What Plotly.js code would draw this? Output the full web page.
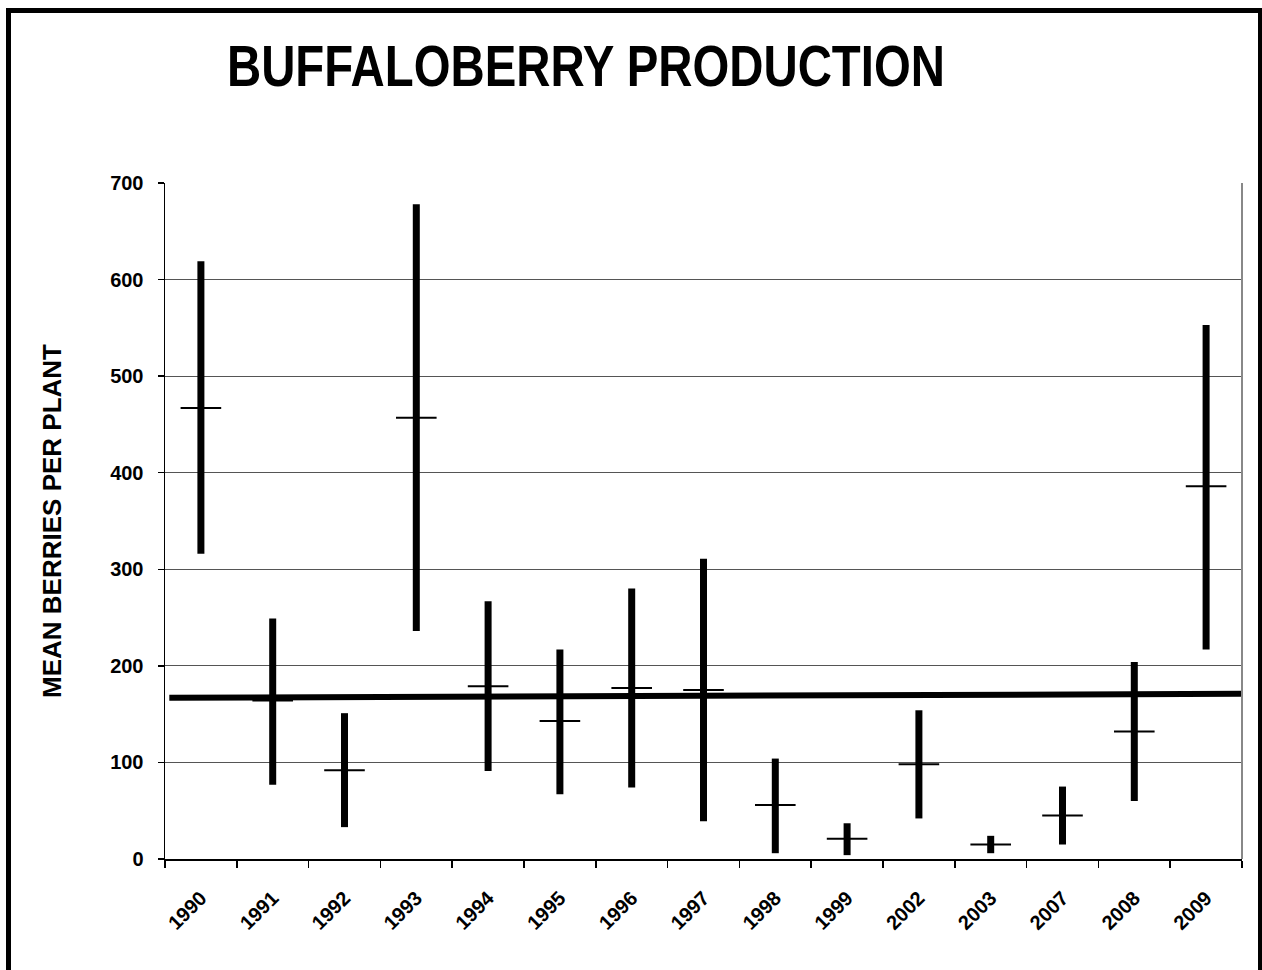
<!DOCTYPE html>
<html>
<head>
<meta charset="utf-8">
<script src="https://cdn.plot.ly/plotly-3.0.1.min.js"></script>
<style>
  html, body { margin: 0; padding: 0; background: #fff; }
  #chart { position: absolute; left: 0; top: 0; width: 1262px; height: 970px; }
  #frame { position: absolute; left: 6px; top: 8px; width: 1257px; height: 980px;
           box-sizing: border-box; border: 5px solid #000; pointer-events: none; }
</style>
</head>
<body>
<div id="chart"></div>
<div id="frame"></div>
<script>
// ---- data ----
const years = ['1990','1991','1992','1993','1994','1995','1996','1997','1998','1999','2002','2003','2007','2008','2009'];
const highValues = [619, 249, 151, 678, 267, 217, 280, 311, 104, 37, 154, 24, 75, 204, 553];
const lowValues  = [316,  77,  33, 236,  91,  67,  74,  39,   6,  4,  42,  6, 15,  60, 217];
const meanValues = [467, 164,  92, 457, 179, 143, 177, 175,  56, 21,  98, 15, 45, 132, 386];
const trendIndex  = [-0.44, 14.5];   // start / end of overall average line (category index)
const trendValues = [167, 171];
const yTickValues = [0, 100, 200, 300, 400, 500, 600, 700];

// ---- build range segments from the data ----
const rangeX = [], rangeY = [];
years.forEach((yr, i) => {
  rangeX.push(yr, yr, null);
  rangeY.push(lowValues[i], highValues[i], null);
});

const boldFont = 'Liberation Sans, Arial, sans-serif';

const traces = [
  {
    type: 'scatter', mode: 'lines', x: rangeX, y: rangeY,
    line: { color: '#000', width: 7 }, connectgaps: false,
    hoverinfo: 'skip', showlegend: false
  },
  {
    type: 'scatter', mode: 'markers', x: years, y: meanValues,
    marker: { symbol: 'line-ew', size: 29, color: '#000', line: { color: '#000', width: 2 } },
    showlegend: false
  },
  {
    type: 'scatter', mode: 'lines', x: trendIndex, y: trendValues, xaxis: 'x2',
    line: { color: '#000', width: 6 }, showlegend: false
  }
];

const layout = {
  width: 1262, height: 970,
  margin: { l: 165, r: 20, t: 183, b: 111 },
  paper_bgcolor: '#fff', plot_bgcolor: '#fff',
  showlegend: false,
  title: {
    text: '<b>BUFFALOBERRY PRODUCTION</b>',
    font: { family: boldFont, size: 58, color: '#000' },
    xref: 'container', yref: 'container',
    x: 0.4643, xanchor: 'center', y: 0.932, yanchor: 'middle'
  },
  xaxis: {
    type: 'category', categoryorder: 'array', categoryarray: years,
    range: [-0.5, 14.5],
    tickson: 'boundaries', ticks: 'outside', ticklen: 7, tickcolor: '#000', tickwidth: 1.5,
    tickangle: -45, ticklabelstandoff: 18,
    tickfont: { family: boldFont, size: 20, color: '#000', weight: 'bold' },
    showline: true, linecolor: '#000', linewidth: 1.5,
    showgrid: false, zeroline: false, fixedrange: true
  },
  xaxis2: {
    overlaying: 'x', type: 'linear', range: [-0.5, 14.5], visible: false, fixedrange: true
  },
  yaxis: {
    range: [0, 700], tickvals: yTickValues, ticktext: yTickValues.map(String),
    ticks: 'outside', ticklen: 6, tickcolor: '#000', tickwidth: 1.5,
    ticklabelstandoff: 10,
    tickfont: { family: boldFont, size: 20, color: '#000', weight: 'bold' },
    showline: true, linecolor: '#000', linewidth: 1.5,
    showgrid: true, gridcolor: '#555', gridwidth: 1,
    zeroline: false, fixedrange: true,
    title: { text: '<b>MEAN BERRIES PER PLANT</b>', standoff: 41,
             font: { family: boldFont, size: 26, color: '#000' } }
  },
  shapes: [
    { type: 'line', xref: 'paper', yref: 'paper', x0: 1, x1: 1, y0: 0, y1: 1,
      line: { color: '#888', width: 2 } }
  ]
};

Plotly.newPlot('chart', traces, layout, { staticPlot: true, displayModeBar: false }).then(gd => {
  // the original title is a condensed bold face: compress the real text to its width
  const t = gd.querySelector('.gtitle');
  if (t) {
    t.setAttribute('textLength', '718');
    t.setAttribute('lengthAdjust', 'spacingAndGlyphs');
  }
});
</script>
</body>
</html>
